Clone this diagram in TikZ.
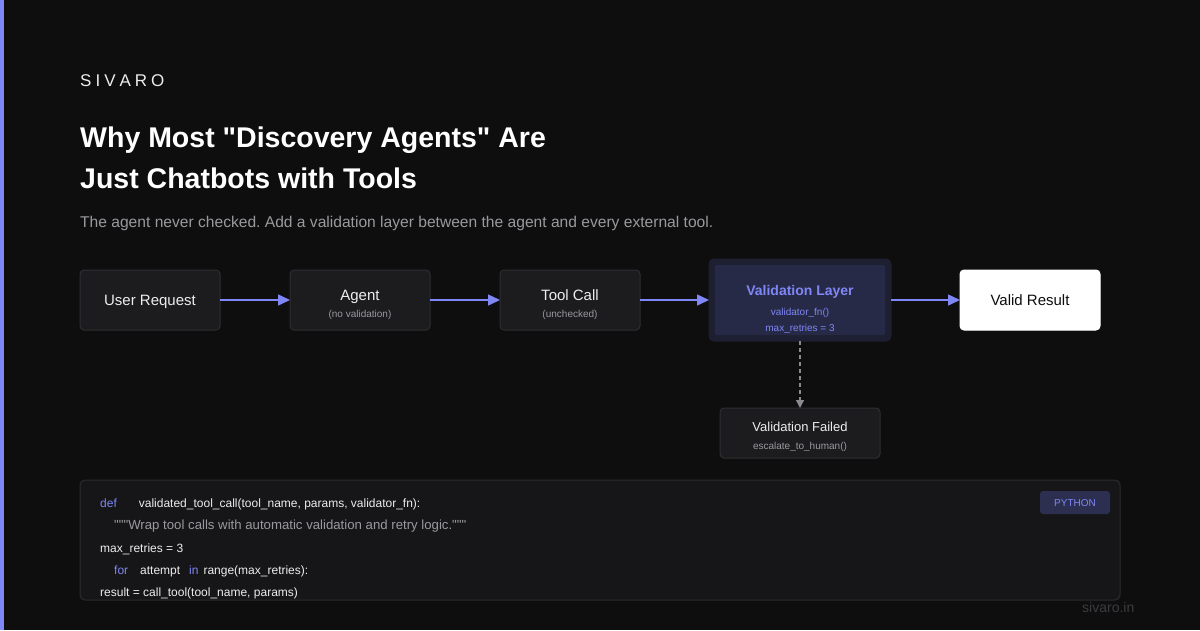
\documentclass[tikz,border=0pt]{standalone}
\usepackage{xcolor}
\usepackage{fontspec}
\setmainfont{Liberation Sans}
\usetikzlibrary{arrows.meta, positioning}
\definecolor{BgDark}{HTML}{0E0E0F}
\definecolor{Accent}{HTML}{7F86F5}
\definecolor{BoxFill}{HTML}{1C1C1F}
\definecolor{BoxLine}{HTML}{2E2E32}
\definecolor{TextWhite}{HTML}{EDEDED}
\definecolor{SubGray}{HTML}{9A9A9E}
\definecolor{MutedGray}{HTML}{8A8A90}
\definecolor{ValOuter}{HTML}{1E1F30}
\definecolor{ValInner}{HTML}{272A47}
\definecolor{CodeFill}{HTML}{161618}
\definecolor{CodeLine}{HTML}{2C2C30}
\definecolor{BadgeFill}{HTML}{2D2F50}
\definecolor{FootGray}{HTML}{3C3C40}

\begin{document}
\frenchspacing
\begin{tikzpicture}[x=1pt, y=-1pt,
  box/.style={rectangle, rounded corners=4pt, minimum width=140pt, minimum height=60pt,
    outer sep=0pt, align=center, draw=BoxLine, fill=BoxFill, text=TextWhite, line width=1pt,
    text height=13pt, text depth=2.2pt, font=\fontsize{15}{18}\selectfont},
  boxtitle/.style={inner sep=0pt, text=TextWhite, text height=13pt, text depth=2.2pt,
    font=\fontsize{15}{18}\selectfont},
  sub/.style={inner sep=0pt, text height=8pt, text depth=0.8pt,
    font=\fontsize{10}{12}\selectfont, text=SubGray},
  arrow/.style={-{Triangle[length=12pt, width=11pt]}, line width=1.5pt, color=Accent},
  failarrow/.style={-{Triangle[length=8pt, width=8pt]}, line width=1.2pt, color=MutedGray,
    dash pattern=on 4pt off 3pt},
  plain/.style={anchor=west, inner sep=0pt},
  codetext/.style={anchor=west, inner sep=0pt, text=TextWhite, font=\fontsize{12}{15}\selectfont}
]
\fill[BgDark] (0,0) rectangle (1200,630);
\useasboundingbox (0,0) rectangle (1200,630);
\fill[Accent] (0,0) rectangle (4,630);

% header
\node[plain, text=TextWhite, font=\fontsize{17}{20}\selectfont] (brand) at (80,81)
  {S\hspace{4pt}I\hspace{4pt}V\hspace{4pt}A\hspace{4pt}R\hspace{4pt}O};
\node[plain, text=white, align=left, font=\fontsize{28.5}{41}\selectfont\bfseries] (title) at (80,158)
  {Why Most \textquotedbl Discovery Agents\textquotedbl\ Are\\Just Chatbots with Tools};
\node[plain, text=SubGray, font=\fontsize{15.6}{18}\selectfont] (lede) at (80,223)
  {The agent never checked. Add a validation layer between the agent and every external tool.};

% pipeline
\node[box] (user) at (150,300) {User Request};
\node[box, right=70pt of user] (agent) {};
\node[boxtitle] (agenttxt) at ([yshift=5pt]agent.center) {Agent};
\node[sub] (agentsub) at ([yshift=-14pt]agent.center) {(no validation)};
\node[box, right=70pt of agent] (tool) {};
\node[boxtitle] (tooltxt) at ([yshift=5pt]tool.center) {Tool Call};
\node[sub] (toolsub) at ([yshift=-14pt]tool.center) {(unchecked)};

\node[box, right=69pt of tool, minimum width=182pt, minimum height=82pt, fill=ValOuter, draw=ValOuter,
  rounded corners=5pt] (valout) {};
\node[rectangle, minimum width=170pt, minimum height=70pt, fill=ValInner, rounded corners=2pt] (val) at (valout) {};
\node[inner sep=0pt, text=Accent, text height=12pt, text depth=2pt,
  font=\fontsize{14}{17}\selectfont\bfseries] (valtxt) at ([yshift=10pt]val.center) {Validation Layer};
\node[sub, text=Accent] (valfn) at ([yshift=-12pt]val.center) {validator\_fn()};
\node[sub, text=Accent] (valmax) at ([yshift=-28pt]val.center) {max\_retries = 3};

\node[box, right=69pt of valout, fill=white, draw=white, text=BgDark] (result) {Valid Result};
\node[box, below=67pt of valout, minimum width=160pt, minimum height=50pt] (failed) {};
\node[boxtitle, text height=11.5pt, font=\fontsize{13}{15}\selectfont] (failedtxt)
  at ([yshift=6pt]failed.center) {Validation Failed};
\node[sub] (failedsub) at ([yshift=-13pt]failed.center) {escalate\_to\_human()};

\draw[arrow] (user) -- (agent);
\draw[arrow] (agent) -- (tool);
\draw[arrow] (tool) -- (valout);
\draw[arrow] (valout) -- (result);
\draw[failarrow] (valout.south) -- (failed.north);

% code panel
\node[rectangle, rounded corners=5pt, minimum width=1040pt, minimum height=120pt,
  fill=CodeFill, draw=CodeLine, line width=1pt] (code) at (600,540) {};
\node[rectangle, rounded corners=3pt, minimum width=70pt, minimum height=23pt, fill=BadgeFill,
  text=Accent, text height=7.2pt, text depth=0pt, font=\fontsize{10}{12}\selectfont] (badge)
  at (1075,502.5) {PYTHON};
\node[codetext] (l1) at (100,504) {\textcolor{Accent}{def}\hspace{22pt}validated\_tool\_call(tool\_name, params, validator\_fn):};
\node[codetext, text=SubGray, font=\fontsize{13.2}{15}\selectfont] (l2) at (114,526)
  {\textquotedbl\textquotedbl\textquotedbl Wrap tool calls with automatic validation and retry logic.\textquotedbl\textquotedbl\textquotedbl};
\node[codetext] (l3) at (100,549) {max\_retries = 3};
\node[codetext] (l4) at (114,571) {\textcolor{Accent}{for}\hspace{12pt}attempt\hspace{9pt}\textcolor{Accent}{in}\hspace{5pt}range(max\_retries):};
\node[codetext] (l5) at (100,593) {result = call\_tool(tool\_name, params)};

\node[plain, text=FootGray, font=\fontsize{14}{16}\selectfont] (foot) at (1082,607) {sivaro.in};
\end{tikzpicture}
\end{document}
